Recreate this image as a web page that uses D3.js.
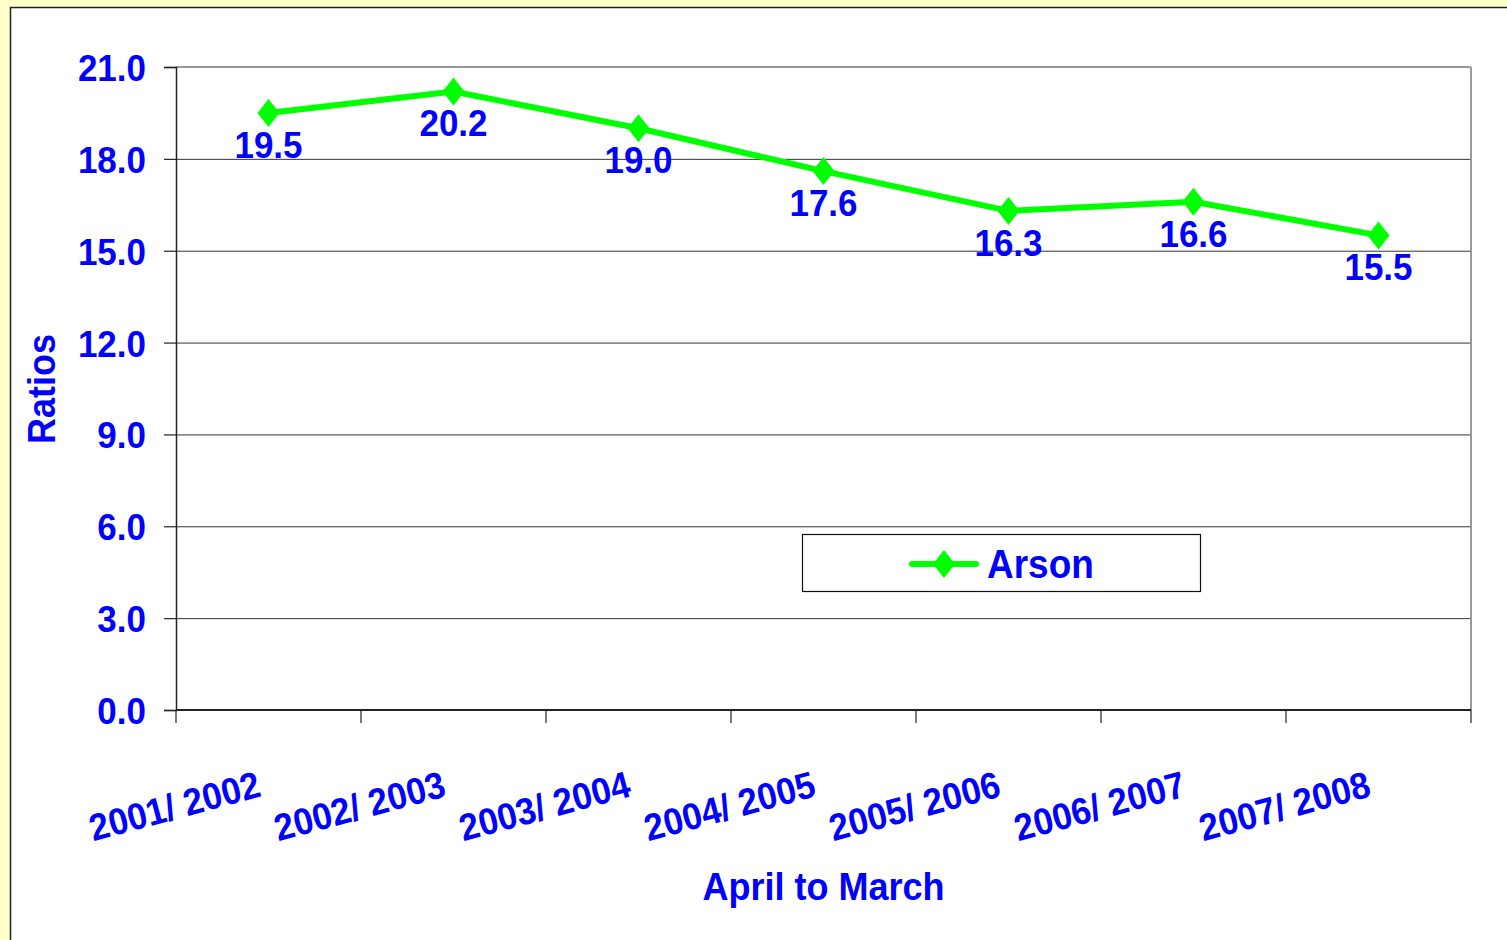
<!DOCTYPE html>
<html><head><meta charset="utf-8">
<script src="https://cdn.jsdelivr.net/npm/d3@7/dist/d3.min.js"></script>
<style>
html,body{margin:0;padding:0;background:#FFFFCC;}
svg{display:block;}
text{font-family:"Liberation Sans",Arial,sans-serif;font-weight:bold;fill:#0000FF;}
</style></head>
<body>
<svg id="chart" width="1507" height="940"></svg>
<script>
const categories = ["2001/ 2002","2002/ 2003","2003/ 2004","2004/ 2005","2005/ 2006","2006/ 2007","2007/ 2008"];
const arsonValues = [19.5, 20.2, 19.0, 17.6, 16.3, 16.6, 15.5];
const yTicks = [0, 3, 6, 9, 12, 15, 18, 21];
const seriesName = "Arson";
const xTitle = "April to March";
const yTitle = "Ratios";

const svg = d3.select("#chart");
const W = 1507, H = 940;
const L = 176, R = 1471, T = 67, B = 710;
const SY = 1.07; // slight vertical stretch of text, as in the reference

svg.append("rect").attr("x",0).attr("y",0).attr("width",W).attr("height",H).attr("fill","#FFFFCC");
svg.append("rect").attr("x",10.5).attr("y",7.5).attr("width",W).attr("height",H).attr("fill","#FFFFFF")
  .attr("stroke","#222").attr("stroke-width",1.5);

const x = d3.scaleBand().domain(categories).range([L, R]).padding(0);
const y = d3.scaleLinear().domain([0, 21]).range([B, T]);

// gridlines
svg.append("g").selectAll("line").data(yTicks.filter(t => t > 0 && t < 21)).join("line")
  .attr("x1", L).attr("x2", R).attr("y1", d => y(d)+0.5).attr("y2", d => y(d)+0.5)
  .attr("stroke", "#333").attr("stroke-width", 1);

svg.append("line").attr("x1",L).attr("x2",R).attr("y1",T).attr("y2",T).attr("stroke","#999").attr("stroke-width",2);
svg.append("line").attr("x1",R).attr("x2",R).attr("y1",T).attr("y2",B).attr("stroke","#999").attr("stroke-width",2);

// y axis
const yAxis = d3.axisLeft(y).tickValues(yTicks).tickFormat(d3.format(".1f")).tickSize(12).tickPadding(18);
const gy = svg.append("g").attr("transform", `translate(${L},0)`).call(yAxis);
gy.select(".domain").attr("stroke","#222").attr("stroke-width",1.5);
gy.selectAll(".tick line").attr("stroke","#222").attr("stroke-width",1.2);
gy.selectAll(".tick text").attr("font-size", 35).attr("fill","#0000FF")
  .attr("font-family","Liberation Sans, Arial, sans-serif").attr("font-weight","bold")
  .attr("dy","0.36em").attr("transform", `scale(1,${SY})`);

// x axis
const boundaries = categories.map(c => x(c)).concat([R]);
svg.append("line").attr("x1",L).attr("x2",R).attr("y1",B).attr("y2",B).attr("stroke","#222").attr("stroke-width",2);
svg.append("g").selectAll("line").data(boundaries).join("line")
  .attr("x1", d => d).attr("x2", d => d).attr("y1", B).attr("y2", B + 13)
  .attr("stroke", "#222").attr("stroke-width", 1.2);

svg.append("g").selectAll("text").data(categories).join("text")
  .attr("text-anchor","end").attr("font-size",35)
  .attr("transform", d => `translate(${x(d) + x.bandwidth()/2 - 6},${796}) rotate(-15) scale(1,${SY})`)
  .text(d => d);

// axis titles
svg.append("text").attr("transform",`translate(${(L+R)/2},900) scale(1,${SY})`).attr("text-anchor","middle").attr("font-size",36).text(xTitle);
svg.append("text").attr("transform",`translate(55,389) rotate(-90) scale(1,${SY})`).attr("text-anchor","middle").attr("font-size",36).text(yTitle);

// line
const cx = d => x(d) + x.bandwidth()/2;
const line = d3.line().x((d,i) => cx(categories[i])).y(d => y(d));
svg.append("path").datum(arsonValues).attr("d", line).attr("fill","none")
  .attr("stroke","#00FF00").attr("stroke-width",6).attr("stroke-linejoin","round");

const diamond = "M0,-14 L11,0 L0,14 L-11,0 Z";
svg.append("g").selectAll("path").data(arsonValues).join("path")
  .attr("d", diamond).attr("fill","#00FF00")
  .attr("transform", (d,i) => `translate(${cx(categories[i])},${y(d)})`);

// data labels
svg.append("g").selectAll("text").data(arsonValues).join("text")
  .attr("transform", (d,i) => `translate(${cx(categories[i])},${y(d) + 45}) scale(1,${SY})`)
  .attr("text-anchor","middle").attr("font-size",35)
  .text(d => d3.format(".1f")(d));

// legend
const lg = svg.append("g");
lg.append("rect").attr("x",802.5).attr("y",534.5).attr("width",398).attr("height",57)
  .attr("fill","#fff").attr("stroke","#111").attr("stroke-width",1.2);
lg.append("line").attr("x1",912).attr("x2",976).attr("y1",564).attr("y2",564)
  .attr("stroke","#00FF00").attr("stroke-width",6).attr("stroke-linecap","round");
lg.append("path").attr("d", diamond).attr("fill","#00FF00").attr("transform","translate(944,564)");
lg.append("text").attr("transform",`translate(987,578) scale(1,1.1)`).attr("font-size",37).text(seriesName);
</script>
</body></html>
